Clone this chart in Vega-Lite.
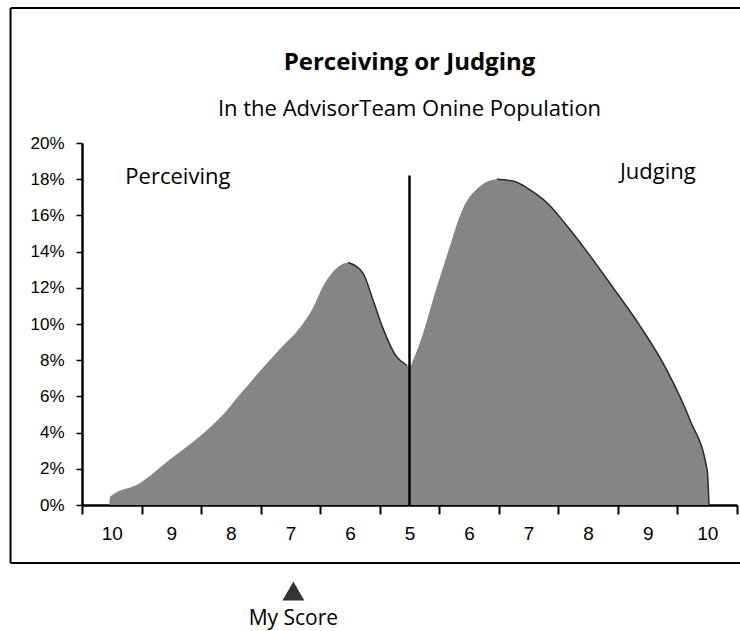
{
  "$schema": "https://vega.github.io/schema/vega-lite/v6.json",
  "autosize": {"type": "none"},
  "width": 655,
  "height": 362,
  "padding": {"left": 82, "top": 143, "right": 3, "bottom": 126},
  "background": "white",
  "config": {
    "view": {"stroke": null},
    "axis": {"grid": false, "labelOverlap": false, "labelSeparation": 0, "labelBound": false, "labelFlush": false}
  },
  "datasets": {
    "dist": [
      {"pos": -0.04, "pct": 0},
      {"pos": -0.03, "pct": 0.45},
      {"pos": 0.47, "pct": 1.2},
      {"pos": 0.97, "pct": 2.5},
      {"pos": 1.48, "pct": 3.8},
      {"pos": 1.87, "pct": 5.0},
      {"pos": 2.15, "pct": 6.1},
      {"pos": 2.49, "pct": 7.4},
      {"pos": 2.82, "pct": 8.6},
      {"pos": 3.16, "pct": 9.8},
      {"pos": 3.38, "pct": 10.9},
      {"pos": 3.55, "pct": 12.1},
      {"pos": 3.78, "pct": 13.1},
      {"pos": 3.97, "pct": 13.4},
      {"pos": 4.22, "pct": 12.8},
      {"pos": 4.39, "pct": 11.3},
      {"pos": 4.55, "pct": 9.8},
      {"pos": 4.76, "pct": 8.3},
      {"pos": 4.96, "pct": 7.7},
      {"pos": 5.02, "pct": 7.7},
      {"pos": 5.06, "pct": 8.0},
      {"pos": 5.23, "pct": 9.5},
      {"pos": 5.39, "pct": 11.3},
      {"pos": 5.63, "pct": 13.8},
      {"pos": 5.9, "pct": 16.4},
      {"pos": 6.18, "pct": 17.6},
      {"pos": 6.47, "pct": 18.0},
      {"pos": 6.74, "pct": 17.9},
      {"pos": 7.03, "pct": 17.4},
      {"pos": 7.31, "pct": 16.7},
      {"pos": 7.65, "pct": 15.4},
      {"pos": 7.98, "pct": 14.0},
      {"pos": 8.42, "pct": 12.0},
      {"pos": 8.87, "pct": 9.9},
      {"pos": 9.33, "pct": 7.4},
      {"pos": 9.71, "pct": 4.7},
      {"pos": 10.0, "pct": 1.9},
      {"pos": 10.03, "pct": 0}
    ],
    "divider": [{"pos": 5, "pct": 18.2}],
    "titles": [
      {"label": "Perceiving or Judging", "pos": 5, "pct": 24.4}
    ],
    "subtitles": [
      {"label": "In the AdvisorTeam Onine Population", "pos": 5, "pct": 21.9}
    ],
    "notes": [
      {"label": "Perceiving", "pos": 1.11, "pct": 18.1},
      {"label": "Judging", "pos": 9.17, "pct": 18.4}
    ],
    "score": [{"label": "My Score", "pos": 3.05, "pct": -4.75}],
    "frame": [{"pos": -1.7, "pos2": 10.6, "pct": -3.2, "pct2": 27.46}]
  },
  "encoding": {
    "x": {
      "field": "pos",
      "type": "quantitative",
      "title": null,
      "scale": {"domain": [-0.5, 10.5], "nice": false, "zero": false},
      "axis": {
        "values": [-0.5, 0, 0.5, 1, 1.5, 2, 2.5, 3, 3.5, 4, 4.5, 5, 5.5, 6, 6.5, 7, 7.5, 8, 8.5, 9, 9.5, 10, 10.5],
        "labelExpr": "datum.value % 1 !== 0 ? '' : '' + (datum.value <= 5 ? 10 - datum.value : datum.value)",
        "tickOpacity": {"condition": {"test": "datum.value % 1 === 0", "value": 0}, "value": 1},
        "tickSize": 9,
        "tickWidth": 2,
        "tickColor": "black",
        "domainColor": "black",
        "domainWidth": 2.5,
        "labelFont": "Liberation Sans",
        "labelFontSize": 19,
        "labelColor": "black",
        "labelPadding": 10,
        "labelOverlap": false,
        "labelFlush": false,
        "labelBound": false
      }
    },
    "y": {
      "field": "pct",
      "type": "quantitative",
      "title": null,
      "scale": {"domain": [0, 20], "nice": false},
      "axis": {
        "values": [0, 2, 4, 6, 8, 10, 12, 14, 16, 18, 20],
        "labelExpr": "datum.value + '%'",
        "tickSize": 6,
        "tickWidth": 1.5,
        "tickColor": "black",
        "domainColor": "black",
        "domainWidth": 2.5,
        "labelFont": "Liberation Sans",
        "labelFontSize": 17,
        "labelColor": "black",
        "labelPadding": 12,
        "labelOverlap": false
      }
    }
  },
  "layer": [
    {
      "data": {"name": "dist"},
      "mark": {"type": "area", "interpolate": "monotone", "color": "#858585"}
    },
    {
      "data": {"name": "dist"},
      "transform": [{"filter": "datum.pos >= 3.95 && datum.pos <= 4.97"}],
      "mark": {"type": "line", "interpolate": "monotone", "color": "#2a2a2a", "strokeWidth": 1.5}
    },
    {
      "data": {"name": "dist"},
      "transform": [{"filter": "datum.pos >= 6.4"}],
      "mark": {"type": "line", "interpolate": "monotone", "color": "#2a2a2a", "strokeWidth": 1.5}
    },
    {
      "data": {"name": "divider"},
      "mark": {"type": "rule", "color": "black", "strokeWidth": 2.5},
      "encoding": {"y2": {"datum": 0}}
    },
    {
      "data": {"name": "titles"},
      "mark": {"type": "text", "font": "Open Sans", "fontSize": 24, "fontWeight": "bold", "color": "black", "align": "center", "baseline": "middle"},
      "encoding": {"text": {"field": "label"}}
    },
    {
      "data": {"name": "subtitles"},
      "mark": {"type": "text", "font": "Open Sans", "fontSize": 22, "color": "black", "align": "center", "baseline": "middle"},
      "encoding": {"text": {"field": "label"}}
    },
    {
      "data": {"name": "notes"},
      "mark": {"type": "text", "font": "Open Sans", "fontSize": 22, "color": "black", "align": "center", "baseline": "middle"},
      "encoding": {"text": {"field": "label"}}
    },
    {
      "data": {"name": "score"},
      "mark": {"type": "point", "shape": "triangle-up", "filled": true, "color": "#333333", "size": 480, "opacity": 1}
    },
    {
      "data": {"name": "score"},
      "mark": {"type": "text", "font": "Open Sans", "fontSize": 21, "color": "black", "align": "center", "baseline": "middle", "dy": 28},
      "encoding": {"text": {"field": "label"}}
    },
    {
      "data": {"name": "frame"},
      "mark": {"type": "rule", "color": "black", "strokeWidth": 2},
      "encoding": {"x2": {"field": "pos2"}, "y": {"field": "pct2"}}
    },
    {
      "data": {"name": "frame"},
      "mark": {"type": "rule", "color": "black", "strokeWidth": 2},
      "encoding": {"x2": {"field": "pos2"}}
    },
    {
      "data": {"name": "frame"},
      "mark": {"type": "rule", "color": "black", "strokeWidth": 2},
      "encoding": {"y2": {"field": "pct2"}}
    }
  ]
}
